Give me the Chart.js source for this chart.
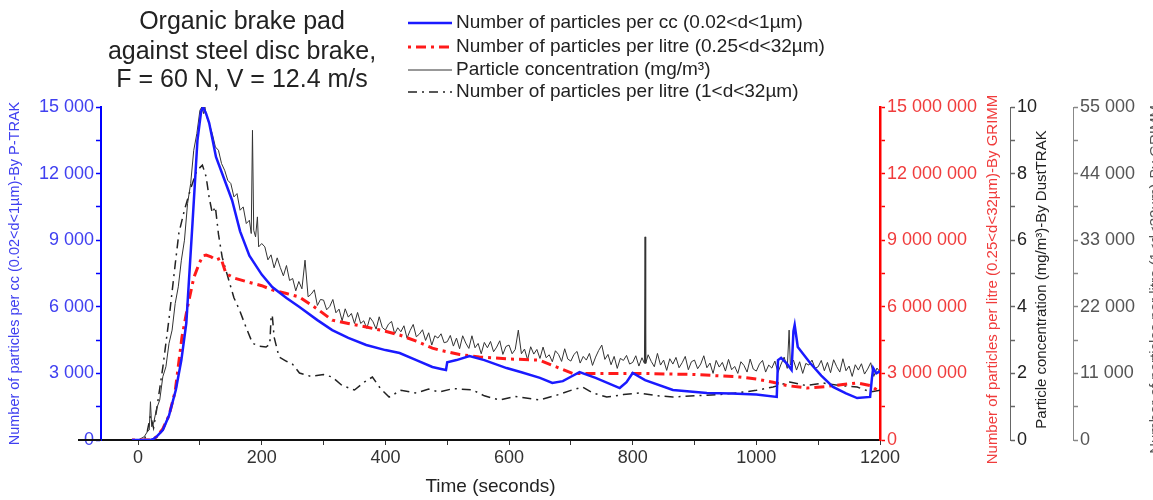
<!DOCTYPE html>
<html>
<head>
<meta charset="utf-8">
<script src="https://cdn.jsdelivr.net/npm/chart.js@4.4.1/dist/chart.umd.min.js"></script>
<style>
  html, body { margin: 0; padding: 0; background: #fff; }
  #wrap { width: 1153px; height: 500px; position: relative; }
</style>
</head>
<body>
<div id="wrap"><canvas id="grafico"></canvas></div>
<script>
// P-TRAK, particles per cc (0.02<d<1um)
var blueTime = [-10, 10, 20, 25, 30, 40, 50, 61, 70, 78, 88, 96, 102, 105, 110, 115, 126, 140, 152, 165, 180, 200, 217, 240, 261, 290, 314, 340, 369, 400, 423, 450, 476, 490, 498, 500, 515, 536, 560, 596, 620, 650, 670, 687, 700, 714, 740, 779, 790, 800, 820, 865, 920, 960, 1000, 1033, 1035, 1040, 1049, 1057, 1060, 1062, 1067, 1087, 1105, 1124, 1145, 1163, 1184, 1187, 1189, 1194, 1200];
var blueCount = [0, 0, 0, 50, 150, 450, 1100, 2250, 3600, 5270, 9770, 13500, 14800, 15000, 14700, 14280, 12750, 11700, 10800, 9400, 8300, 7450, 6890, 6400, 5990, 5400, 4950, 4600, 4280, 4050, 3920, 3600, 3290, 3200, 3150, 3500, 3600, 3780, 3600, 3240, 3050, 2800, 2570, 2650, 2850, 3060, 2800, 2340, 2600, 3020, 2700, 2250, 2120, 2100, 2050, 1940, 3600, 3700, 3450, 3150, 4900, 5180, 4190, 3470, 2900, 2390, 2100, 1890, 1940, 2800, 3240, 3000, 3100];

// GRIMM, particles per litre (0.25<d<32um)
var redTime = [-10, 20, 25, 30, 40, 50, 60, 71, 80, 90, 99, 105, 110, 118, 126, 134, 142, 155, 180, 200, 217, 240, 261, 290, 314, 340, 369, 400, 423, 450, 476, 487, 520, 552, 600, 649, 680, 703, 750, 811, 900, 973, 1000, 1027, 1050, 1082, 1110, 1140, 1163, 1185, 1195, 1200];
var redCount = [0, 0, 50000, 150000, 500000, 1100000, 2200000, 4640000, 6000000, 7300000, 7970000, 8300000, 8330000, 8250000, 8100000, 8200000, 7500000, 7300000, 7100000, 6950000, 6760000, 6600000, 6440000, 5900000, 5400000, 5250000, 5090000, 4900000, 4730000, 4450000, 4140000, 4050000, 3850000, 3740000, 3650000, 3600000, 3250000, 3000000, 3000000, 3000000, 2950000, 2840000, 2750000, 2600000, 2450000, 2340000, 2400000, 2500000, 2570000, 2450000, 2250000, 2200000];

// DustTRAK, mg/m3
var dustTime = [0, 5, 10, 15, 18, 20, 22, 25, 30, 35, 40, 45, 50, 55, 60, 65, 70, 75, 80, 85, 90, 95, 100, 103, 106, 108, 111, 115, 120, 125, 130, 135, 140, 145, 150, 155, 160, 165, 170, 175, 180, 183, 185, 187, 190, 193, 195, 200,
  205, 210, 215, 220, 225, 230, 235, 240, 245, 250, 255, 260, 265, 270, 275, 280, 285, 290, 295,
  300, 305, 310, 315, 320, 325, 330, 335, 340, 345, 350, 355, 360, 365, 370, 375, 380, 385, 390, 395,
  400, 405, 410, 415, 420, 425, 430, 435, 440, 445, 450, 455, 460, 465, 470, 475, 480, 485, 490, 495,
  500, 505, 510, 515, 520, 525, 530, 535, 540, 545, 550, 555, 560, 565, 570, 575, 580, 585, 590, 595,
  600, 605, 610, 615, 620, 625, 630, 635, 640, 645, 650, 655, 660, 665, 670, 675, 680, 685, 690, 695,
  700, 705, 710, 715, 720, 725, 730, 735, 740, 745, 750, 755, 760, 765, 770, 775, 780, 785, 790, 795,
  800, 805, 810, 815, 819, 820, 821, 825, 830, 835, 840, 845, 850, 855, 860, 865, 870, 875, 880, 885, 890, 895,
  900, 905, 910, 915, 920, 925, 930, 935, 940, 945, 950, 955, 960, 965, 970, 975, 980, 985, 990, 995,
  1000, 1005, 1010, 1015, 1020, 1025, 1030, 1035, 1040, 1045, 1050, 1053, 1055, 1060, 1065, 1070, 1075, 1080, 1085, 1090, 1095,
  1100, 1105, 1110, 1115, 1120, 1125, 1130, 1135, 1140, 1145, 1150, 1155, 1160, 1165, 1170, 1175, 1180, 1185, 1190, 1195, 1200];
var dustConc = [0, 0.05, 0.1, 0.25, 0.3, 1.15, 0.4, 0.5, 0.95, 1.2, 1.9, 2.2, 2.9, 3.3, 4.1, 4.6, 5.4, 6.0, 7.1, 7.7, 8.7, 9.2, 9.9, 10.0, 9.8, 10.0, 9.7, 9.5, 9.2, 8.8, 8.7, 8.3, 8.1, 7.8, 7.7, 7.3, 7.4, 6.9, 7.0, 6.5, 6.6, 6.2, 9.3, 6.3, 6.1, 6.7, 5.8, 5.9,
  5.80, 5.41, 5.56, 5.17, 5.47, 5.18, 4.93, 5.24, 4.79, 4.85, 4.48, 4.76, 4.54, 5.40, 4.30, 4.38, 4.51, 4.04, 4.22,
  4.20, 3.91, 4.01, 4.22, 3.82, 3.93, 3.58, 3.94, 3.69, 3.80, 3.50, 3.83, 3.50, 3.58, 3.35, 3.68, 3.55, 3.33, 3.70, 3.38,
  3.30, 3.48, 3.56, 3.19, 3.37, 3.25, 3.43, 3.06, 3.29, 3.47, 3.10, 3.18, 3.31, 2.99, 3.22, 2.85, 3.13, 3.06, 3.19, 2.92,
  2.95, 3.14, 2.82, 3.06, 2.74, 3.13, 2.91, 2.75, 3.13, 2.77, 2.90, 2.59, 2.93, 2.77, 2.96, 2.65, 2.79, 2.98, 2.57, 2.81,
  2.85, 2.59, 2.72, 3.30, 2.59, 2.73, 2.41, 2.80, 2.58, 2.72, 2.45, 2.79, 2.47, 2.56, 2.35, 2.68, 2.57, 2.36, 2.74, 2.43,
  2.37, 2.57, 2.66, 2.31, 2.51, 2.40, 2.60, 2.24, 2.49, 2.69, 2.85, 2.42, 2.57, 2.26, 2.51, 2.15, 2.45, 2.39, 2.54, 2.28,
  2.33, 2.53, 2.22, 2.47, 2.30, 6.10, 2.30, 2.56, 2.36, 2.20, 2.60, 2.25, 2.40, 2.09, 2.44, 2.28, 2.48, 2.17, 2.32, 2.51, 2.11, 2.35,
  2.40, 2.14, 2.28, 2.53, 2.17, 2.31, 2.00, 2.39, 2.19, 2.33, 2.07, 2.42, 2.11, 2.21, 2.00, 2.35, 2.24, 2.04, 2.43, 2.13,
  2.07, 2.28, 2.39, 2.04, 2.25, 2.16, 2.37, 2.03, 2.28, 2.49, 2.15, 3.30, 2.25, 2.40, 2.10, 2.35, 2.00, 2.30, 2.25, 2.40, 2.15,
  2.20, 2.39, 2.08, 2.33, 2.02, 2.41, 2.20, 2.04, 2.44, 2.08, 2.22, 1.91, 2.26, 2.10, 2.29, 1.98, 2.13, 2.32, 1.91, 2.16, 2.05];

// GRIMM, particles per litre (1<d<32um)
var grimmTime = [-10, 10, 15, 20, 25, 30, 40, 50, 60, 66, 75, 85, 95, 104, 110, 115, 120, 125, 130, 136, 145, 155, 164, 175, 185, 195, 207, 213, 215, 217, 220, 228, 240, 250, 261, 280, 300, 314, 330, 350, 365, 379, 392, 406, 425, 450, 470, 487, 510, 541, 560, 585, 610, 649, 680, 700, 719, 735, 758, 785, 811, 840, 865, 900, 940, 970, 1000, 1027, 1054, 1080, 1108, 1135, 1163, 1185, 1200];
var grimmCount = [0, 0, 1500, 4000, 2000, 5000, 12000, 20000, 29000, 34190, 38000, 41500, 44500, 45400, 43500, 40000, 37500, 38500, 34000, 30200, 27000, 23500, 21470, 18500, 16000, 15500, 15360, 15800, 20000, 20650, 17000, 13710, 13000, 12500, 11070, 10500, 10800, 10400, 9000, 8260, 9500, 10400, 8500, 7100, 8200, 7760, 8400, 7930, 8500, 8260, 7300, 6600, 7200, 6600, 7500, 8200, 8750, 7800, 7100, 7500, 7760, 7300, 7100, 7300, 7500, 7800, 8200, 8750, 9580, 9000, 9410, 9000, 8750, 7930, 8200];

var xTicks = [0, 100, 200, 300, 400, 500, 600, 700, 800, 900, 1000, 1100, 1200];

var leyendas = [
  'Number of particles per cc (0.02<d<1\u00b5m)',
  'Number of particles per litre (0.25<d<32\u00b5m)',
  'Particle concentration (mg/m\u00b3)',
  'Number of particles per litre (1<d<32\u00b5m)'
];
var titulo = ['Organic brake pad', 'against steel disc brake,', 'F = 60 N, V = 12.4 m/s'];
var titulosDerecha = {
  yGrimm: { text: 'Number of particles per litre (0.25<d<32\u00b5m)-By GRIMM', color: '#f03c3c', dx: -17 },
  yDust: { text: 'Particle concentration (mg/m\u00b3)-By DustTRAK', color: '#222222', dx: -31 },
  yGrimm2: { text: 'Number of particles per litre (1<d<32\u00b5m)-By GRIMM', color: '#555555', dx: 3 }
};

var FUENTE = '"Liberation Sans", Arial, sans-serif';

function pares(xs, ys) {
  return xs.map(function (x, i) { return { x: x, y: ys[i] }; });
}

function miles(v) {
  return String(Math.round(v)).replace(/\B(?=(\d{3})+(?!\d))/g, ' ');
}

var estilos = [
  { color: '#1a1aff', width: 2.5, dash: [] },
  { color: '#ff1a1a', width: 3, dash: [3, 5, 10, 5] },
  { color: '#333333', width: 1, dash: [] },
  { color: '#222222', width: 1.5, dash: [9, 5, 2, 5] }
];

// titulo, leyenda y titulos de los ejes derechos dibujados a mano
var cabecera = {
  id: 'cabecera',
  afterDraw: function (chart) {
    var ctx = chart.ctx;
    var area = chart.chartArea;
    ctx.save();

    // el eje x sobresale un poco a la izquierda del eje azul
    ctx.beginPath();
    ctx.strokeStyle = '#111';
    ctx.lineWidth = 2;
    ctx.moveTo(area.left - 23, area.bottom);
    ctx.lineTo(area.left, area.bottom);
    ctx.stroke();

    ctx.fillStyle = '#222';
    ctx.textAlign = 'center';
    ctx.textBaseline = 'middle';
    ctx.font = '25px ' + FUENTE;
    var ty = [22, 52, 80];
    titulo.forEach(function (t, i) { ctx.fillText(t, 242, ty[i]); });

    var ly = [23, 47, 70, 92];
    ctx.font = '19px ' + FUENTE;
    ctx.textAlign = 'left';
    leyendas.forEach(function (t, i) {
      var e = estilos[i];
      ctx.beginPath();
      ctx.strokeStyle = e.color;
      ctx.lineWidth = e.width;
      ctx.setLineDash(e.dash);
      ctx.moveTo(408, ly[i]);
      ctx.lineTo(452, ly[i]);
      ctx.stroke();
      ctx.setLineDash([]);
      ctx.fillStyle = '#222';
      ctx.fillText(t, 456, ly[i]);
    });

    var cy = (area.top + area.bottom) / 2 + 6;
    ctx.font = '15px ' + FUENTE;
    ctx.textAlign = 'center';
    Object.keys(titulosDerecha).forEach(function (id) {
      var s = chart.scales[id];
      var t = titulosDerecha[id];
      ctx.save();
      ctx.translate(s.right + t.dx, cy);
      ctx.rotate(-Math.PI / 2);
      ctx.fillStyle = t.color;
      ctx.fillText(t.text, 0, 0);
      ctx.restore();
    });
    ctx.restore();
  }
};

function ejeY(opts) {
  return {
    type: 'linear',
    position: opts.position,
    min: 0,
    max: opts.max,
    afterFit: function (s) { s.width = opts.width; },
    border: { display: true, color: opts.lineColor, width: opts.lineWidth },
    grid: { display: true, drawOnChartArea: false, drawTicks: true, tickLength: 5, color: opts.lineColor, tickColor: opts.lineColor, tickWidth: 1.5 },
    ticks: {
      stepSize: opts.step,
      color: opts.textColor,
      padding: 2,
      font: { family: FUENTE, size: 18 },
      callback: function (v) { return (Math.round(v / opts.step) % 2 === 0) ? opts.fmt(v) : ''; }
    },
    title: {
      display: opts.position === 'left',
      text: opts.title,
      color: opts.textColor,
      font: { family: FUENTE, size: 14.5 },
      padding: { top: 6, bottom: 4 }
    }
  };
}

var ctx = document.getElementById('grafico').getContext('2d');
var grafico = new Chart(ctx, {
  type: 'line',
  data: {
    datasets: [
      { label: leyendas[0], data: pares(blueTime, blueCount), yAxisID: 'yPtrak', borderColor: estilos[0].color, borderWidth: estilos[0].width, borderDash: estilos[0].dash },
      { label: leyendas[1], data: pares(redTime, redCount), yAxisID: 'yGrimm', borderColor: estilos[1].color, borderWidth: estilos[1].width, borderDash: estilos[1].dash },
      { label: leyendas[2], data: pares(dustTime, dustConc), yAxisID: 'yDust', borderColor: estilos[2].color, borderWidth: estilos[2].width, borderDash: estilos[2].dash },
      { label: leyendas[3], data: pares(grimmTime, grimmCount), yAxisID: 'yGrimm2', borderColor: estilos[3].color, borderWidth: estilos[3].width, borderDash: estilos[3].dash }
    ]
  },
  options: {
    responsive: true,
    maintainAspectRatio: false,
    animation: false,
    layout: { padding: { top: 107, bottom: 0, left: 0, right: 0 } },
    elements: { point: { radius: 0 }, line: { tension: 0, fill: false } },
    plugins: { legend: { display: false }, title: { display: false }, tooltip: { enabled: false } },
    scales: {
      x: {
        type: 'linear',
        min: -60,
        max: 1200,
        afterFit: function (s) { s.height = 60; },
        afterBuildTicks: function (s) { s.ticks = xTicks.map(function (v) { return { value: v }; }); },
        border: { display: true, color: '#111', width: 2 },
        grid: { display: true, drawOnChartArea: false, tickLength: 5, color: '#333', tickColor: '#333' },
        ticks: {
          color: '#333',
          padding: 2,
          font: { family: FUENTE, size: 18 },
          callback: function (v) { return (v % 200 === 0) ? String(v) : ''; }
        },
        title: { display: true, text: 'Time (seconds)', color: '#222', font: { family: FUENTE, size: 19 }, padding: { top: 4, bottom: 2 } }
      },
      yPtrak: ejeY({ position: 'left', max: 15000, step: 1500, width: 101, lineColor: '#0000ff', lineWidth: 2, textColor: '#4040f0', fmt: miles, title: 'Number of particles per cc (0.02<d<1\u00b5m)-By P-TRAK' }),
      yGrimm: ejeY({ position: 'right', max: 15000000, step: 1500000, width: 130, lineColor: '#ff0000', lineWidth: 2.5, textColor: '#f03c3c', fmt: miles }),
      yDust: ejeY({ position: 'right', max: 10, step: 1, width: 63, lineColor: '#666666', lineWidth: 1, textColor: '#222222', fmt: function (v) { return String(v); } }),
      yGrimm2: ejeY({ position: 'right', max: 55000, step: 5500, width: 80, lineColor: '#888888', lineWidth: 1, textColor: '#555555', fmt: miles })
    }
  },
  plugins: [cabecera]
});
</script>
</body>
</html>
